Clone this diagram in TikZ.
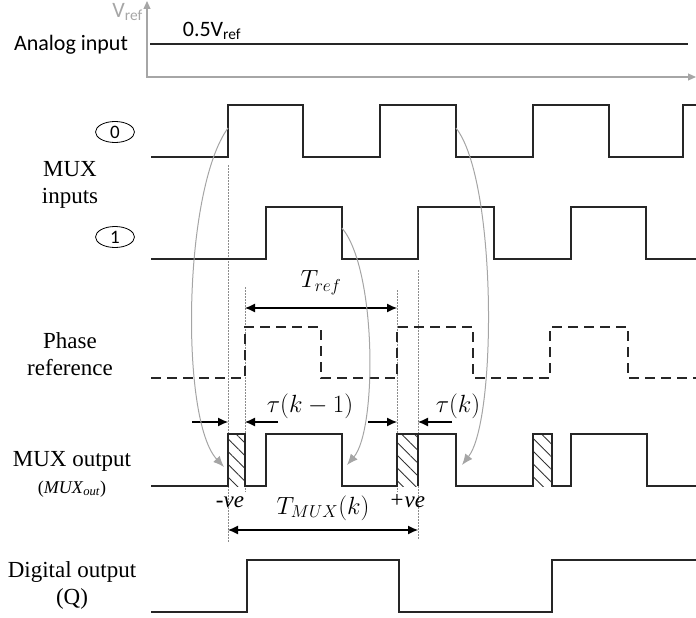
\documentclass[tikz,border=0pt]{standalone}
\usepackage{fontspec}
\setmainfont{Liberation Serif}
\newfontfamily\calibri{Carlito}
\usetikzlibrary{arrows.meta,patterns.meta,shapes.geometric}
\definecolor{axisgray}{RGB}{166,166,166}
\definecolor{curvegray}{RGB}{165,165,165}
\definecolor{dotgray}{RGB}{140,140,140}
\tikzset{
  signal/.style={line width=1.3pt, black!85},
  refsignal/.style={signal, dash pattern=on 10pt off 6pt},
  axisline/.style={axisgray, line width=1.2pt, {Triangle[length=8pt,width=7pt]}-{Triangle[length=8pt,width=7pt]}},
  guide/.style={dotgray, line width=0.9pt, dash pattern=on 1.5pt off 1.5pt},
  dimarrow/.style={line width=1.1pt, {Latex[length=10pt,width=9pt]}-{Latex[length=10pt,width=9pt]}},
  gaparrow/.style={line width=1.1pt, -{Latex[length=10pt,width=9pt]}},
  bendarrow/.style={curvegray, line width=1pt, -{Latex[length=11pt,width=9pt]}},
  hatchbox/.style={pattern={Lines[angle=-45,distance=9pt,line width=0.9pt]}, pattern color=black!80},
  rowlabel/.style={font=\fontsize{23}{27}\selectfont, align=center},
  sanslabel/.style={font=\calibri\fontsize{22}{26}\selectfont, inner sep=0pt},
  mathlabel/.style={font=\fontsize{27}{31}\selectfont, inner sep=0pt},
  chan/.style={ellipse, draw, line width=0.8pt, minimum width=39pt, minimum height=21pt, inner sep=0pt, font=\calibri\fontsize{19}{22}\selectfont}
}
\begin{document}
\begin{tikzpicture}[x=1pt,y=-1pt]
  \useasboundingbox (0,0) rectangle (696,618);
  % Analog input
  \coordinate (ytop) at (147,1);
  \coordinate (xend) at (696,77);
  \draw[axisline] (ytop) |- (xend);
  \node[sanslabel, text=axisgray, anchor=east] (vref) at (143,12) {V\textsubscript{ref}};
  \node[sanslabel] (half) at (212,31) {0.5V\textsubscript{ref}};
  \node[sanslabel] (analog) at (71,45) {Analog input};
  \coordinate (a0) at (150,44);
  \coordinate (a1) at (688,44);
  \draw[signal] (a0) -- (a1);
  % Row labels
  \node[rowlabel] (muxin) at (70,185) {MUX\\inputs};
  \node[chan] (ch0) at (115,132) {0};
  \node[chan] (ch1) at (115,237) {1};
  \node[rowlabel] (phase) at (70,354) {Phase\\reference};
  \node[rowlabel] (muxout) at (72,474) {MUX output\\{\fontsize{18}{21}\selectfont(\textit{MUX}\textsubscript{\textit{out}})}};
  \node[rowlabel] (digout) at (72,585) {Digital output\\(Q)};
  % Guide lines
  \coordinate (g1a) at (228,165); \coordinate (g1b) at (228,543);
  \coordinate (g2a) at (245,287); \coordinate (g2b) at (245,492);
  \coordinate (g3a) at (397,290); \coordinate (g3b) at (397,492);
  \coordinate (g4a) at (418,270); \coordinate (g4b) at (418,540);
  \draw[guide] (g1a) -- (g1b);
  \draw[guide] (g2a) -- (g2b);
  \draw[guide] (g3a) -- (g3b);
  \draw[guide] (g4a) -- (g4b);
  % Hatched gaps
  \fill[hatchbox] (228,434) rectangle (245,486);
  \fill[hatchbox] (397,434) rectangle (418,486);
  \fill[hatchbox] (533,434) rectangle (552,486);
  % MUX input 0
  \draw[signal] (151,157) -| (228,105) -| (303,157) -| (380,105) -| (456,157) -| (533,105) -| (609,157) -| (683,105) -- (696,105);
  % MUX input 1
  \draw[signal] (151,259) -| (266,207) -| (342,259) -| (418,207) -| (494,259) -| (571,207) -| (646,259) -- (696,259);
  % Phase reference
  \draw[refsignal] (151,378) -| (245,327) -| (321,378) -| (397,327) -| (473,378) -| (550,327) -| (628,378) -- (696,378);
  % MUX output
  \draw[signal] (151,486) -| (228,434) -| (245,486) -| (266,434) -| (342,486) -| (397,434) -| (456,486) -| (533,434) -| (552,486) -| (571,434) -| (647,486) -- (696,486);
  \draw[signal] (418,486) -- (418,434);
  % Digital output
  \draw[signal] (151,612) -| (247,560) -| (399,612) -| (552,560) -- (696,560);
  % Period of the phase reference
  \coordinate (tr0) at (245,308);
  \coordinate (tr1) at (397,308);
  \draw[dimarrow] (tr0) -- (tr1);
  \node[mathlabel] (tref) at (321,283) {$T_{ref}$};
  % Delays
  \coordinate (t1a) at (192,422); \coordinate (t1b) at (228,422);
  \coordinate (t1c) at (278,422); \coordinate (t1d) at (245,422);
  \coordinate (t2a) at (368,422); \coordinate (t2b) at (397,422);
  \coordinate (t2c) at (452,422); \coordinate (t2d) at (418,422);
  \draw[gaparrow] (t1a) -- (t1b);
  \draw[gaparrow] (t1c) -- (t1d);
  \draw[gaparrow] (t2a) -- (t2b);
  \draw[gaparrow] (t2c) -- (t2d);
  \node[mathlabel] (tau1) at (310,406) {$\tau(k-1)$};
  \node[mathlabel] (tau2) at (458,406) {$\tau(k)$};
  % MUX period
  \coordinate (tm0) at (228,530);
  \coordinate (tm1) at (418,530);
  \draw[dimarrow] (tm0) -- (tm1);
  \node[mathlabel] (tmux) at (323,508) {$T_{MUX}(k)$};
  \node[rowlabel, inner sep=0pt] (neg) at (230,502) {\textit{-ve}};
  \node[rowlabel, inner sep=0pt] (pos) at (407,501) {\textit{+ve}};
  % Selected edges
  \coordinate (s0) at (228,128); \coordinate (d0) at (224,467);
  \coordinate (s1) at (342,228); \coordinate (d1) at (347,465);
  \coordinate (s2) at (456,128); \coordinate (d2) at (462,465);
  \draw[bendarrow] (s0) .. controls +(-45,62) and +(-44,-47) .. (d0);
  \draw[bendarrow] (s1) .. controls +(35,42) and +(30,-35) .. (d1);
  \draw[bendarrow] (s2) .. controls +(41,52) and +(35,-45) .. (d2);
\end{tikzpicture}
\end{document}
